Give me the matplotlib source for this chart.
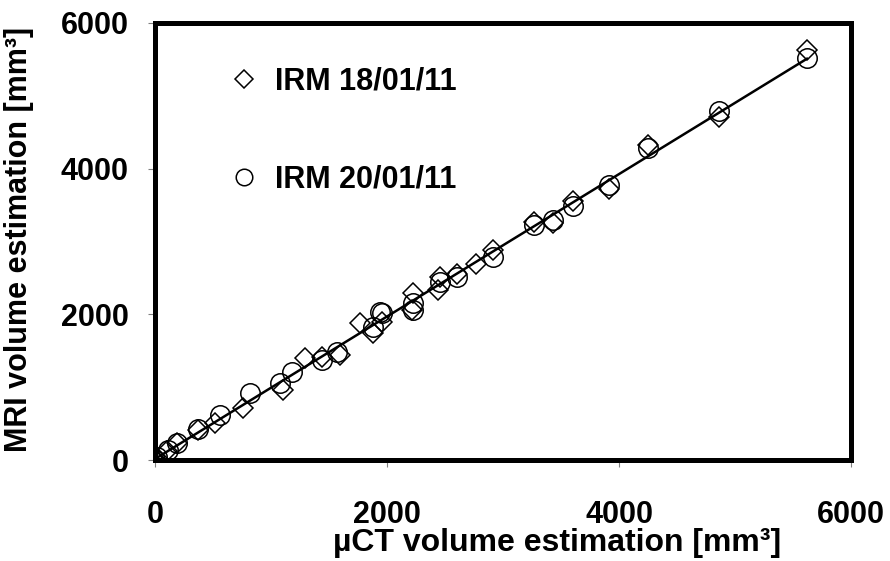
import numpy as np
import matplotlib
matplotlib.use("Agg")
import matplotlib.pyplot as plt

plt.rcParams['font.family'] = ['Liberation Sans', 'DejaVu Sans']
plt.rcParams['font.weight'] = 'bold'

# uCT volume vs MRI volume, two acquisitions
x_18 = [0, 15, 100, 190, 370, 520, 760, 1100, 1290, 1440, 1595, 1770, 1880, 1960,
        2225, 2215, 2440, 2460, 2600, 2770, 2915, 3270, 3430, 3600, 3915, 4250, 4860, 5620]
y_18 = [0, 30, 130, 230, 410, 510, 715, 960, 1400, 1415, 1440, 1880, 1745, 1895,
        2290, 2060, 2335, 2515, 2560, 2690, 2880, 3270, 3255, 3560, 3720, 4325, 4710, 5630]

x_20 = [0, 20, 110, 190, 370, 560, 820, 1080, 1180, 1440, 1570, 1880, 1940, 1960,
        2220, 2225, 2455, 2600, 2915, 3270, 3430, 3600, 3915, 4250, 4860, 5620]
y_20 = [0, 40, 140, 240, 420, 615, 920, 1060, 1210, 1375, 1485, 1825, 2030, 2015,
        2150, 2060, 2445, 2515, 2790, 3230, 3295, 3490, 3775, 4285, 4790, 5520]

labels = ['IRM 18/01/11', 'IRM 20/01/11']
ticks = [0, 2000, 4000, 6000]

fig = plt.figure(figsize=(8.9, 5.61), dpi=100)
ax = fig.add_axes([155/890, 1 - 460/561, 696/890, 437/561])

ax.plot(x_18, y_18, linestyle='none', marker='D', markersize=10.5,
        markerfacecolor='none', markeredgecolor='black', markeredgewidth=1.1,
        label=labels[0])
ax.plot(x_20, y_20, linestyle='none', marker='o', markersize=14,
        markerfacecolor='none', markeredgecolor='black', markeredgewidth=1.1,
        label=labels[1])

# linear fit through all points
all_x = np.array(x_18 + x_20)
all_y = np.array(y_18 + y_20)
slope, intercept = np.polyfit(all_x, all_y, 1)
fx = np.array([0, max(all_x)])
ax.plot(fx, slope * fx + intercept, color='black', linewidth=1.8)

ax.set_xlim(0, 6000)
ax.set_ylim(0, 6000)
ax.set_xticks(ticks)
ax.set_yticks(ticks)
ax.tick_params(direction='out', length=5, width=0.8, color='#808080',
               labelsize=22)
ax.tick_params(axis='x', pad=24)
ax.tick_params(axis='y', pad=14)
for s in ax.spines.values():
    s.set_linewidth(3.6)

ax.set_xlabel('µCT volume estimation [mm³]', fontsize=23, fontweight='bold')
ax.set_ylabel('MRI volume estimation [mm³]', fontsize=22, fontweight='bold')
ax.xaxis.set_label_coords(0.577, -0.155)
ax.yaxis.set_label_coords(-0.174, 0.505)

ax.legend(loc='upper left', bbox_to_anchor=(229/890, 1 - 67/561),
          bbox_transform=fig.transFigure, frameon=False, fontsize=22,
          handlelength=1.0, handletextpad=0.5, labelspacing=2.2,
          borderpad=0, borderaxespad=0, markerscale=0.85)

fig.savefig('out.png', dpi=100)
